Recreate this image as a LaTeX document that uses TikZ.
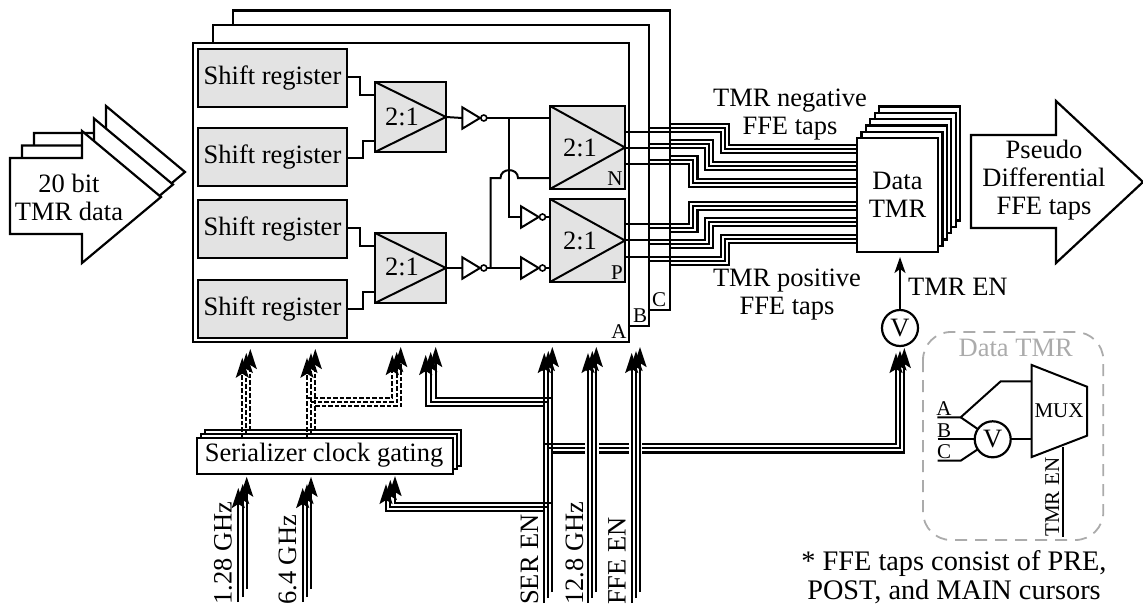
\documentclass[tikz,border=0pt]{standalone}
\usepackage{fontspec}
\setmainfont{Liberation Serif}
\usetikzlibrary{arrows.meta,shapes.geometric,calc}
\newcommand\bx[6][]{\pgfmathsetmacro\bcx{(#3+#5)/2}\pgfmathsetmacro\bcy{(#4+#6)/2}\pgfmathsetmacro\bw{abs(#5-#3)}\pgfmathsetmacro\bh{abs(#6-#4)}\node[boxn,#1,minimum width=\bw pt,minimum height=\bh pt] (#2) at (\bcx,\bcy) {};}
\newcommand\inverter[3]{\draw[ln,fill=white] (#2,#3-10.7) -- (#2+17.7,#3) -- (#2,#3+10.7) -- cycle;
  \coordinate (#1i) at (#2,#3);
  \node[bubble] (#1) at (#2+21.5,#3) {};}
\tikzset{
  ln/.style={line width=2pt,line join=miter},
  boxn/.style={draw,line width=2.2pt,fill=white,inner sep=0pt,outer sep=0pt},
  sreg/.style={fill=black!11},
  bubble/.style={circle,draw,line width=1.6pt,fill=white,minimum size=6pt,inner sep=0pt,outer sep=0pt},
  vote/.style={circle,draw,line width=2.2pt,fill=white,minimum size=36pt,inner sep=0pt,outer sep=0pt},
  bus/.style={line width=2.1pt,line join=miter},
  dbus/.style={line width=2pt,dash pattern=on 4.5pt off 2pt},
  arr/.style={-{Stealth[length=20pt,width=13pt,inset=4pt]}},
  big/.style={font=\fontsize{26.5}{28}\selectfont,align=center,inner sep=0pt},
  small/.style={font=\fontsize{21}{24}\selectfont,inner sep=0pt},
  gray label/.style={text=black!33},
}
\begin{document}
\begin{tikzpicture}[x=1pt,y=-1pt]
\useasboundingbox (0,0) rectangle (1143,608);

% input arrow stack
\foreach \ox/\oy in {24/-25,12/-12.5,0/0}{
  \draw[boxn,shift={(\ox,\oy)}] (10,158) -- (82,158) -- (82,131) -- (161,197) -- (82,263) -- (82,234) -- (10,234) -- cycle;
}
\node[big] (indata) at (69,197) {20 bit\\TMR data};

% slices
\bx{boxC}{233}{10.5}{670}{310}
\bx{boxB}{213}{25}{649}{326}
\bx{boxA}{193}{43}{629}{342}
\node[small] (lc) at (659,300) {C};
\node[small] (lb) at (640,316) {B};
\node[small] (la) at (619,332) {A};

% shift registers
\bx[sreg]{sra}{198}{49}{347}{107}
\bx[sreg]{srb}{198}{128}{347}{186}
\bx[sreg]{src}{198}{200}{347}{258}
\bx[sreg]{srd}{198}{280}{347}{338}
\foreach \n in {sra,srb,src,srd}{\node[big] (t\n) at (\n) {Shift register};}

% muxes
\bx[sreg]{ma}{375}{82}{446}{152}
\bx[sreg]{mb}{375}{233}{446}{303}
\bx[sreg]{mn}{550}{106}{625}{189}
\bx[sreg]{mp}{550}{199}{625}{282}
\foreach \n in {ma,mb,mn,mp}{\draw[ln] (\n.north west) -- (\n.east) -- (\n.south west);}
\node[big] (tma) at (402,117) {2:1};
\node[big] (tmb) at (402,267) {2:1};
\node[big] (tmn) at (580,148) {2:1};
\node[big] (tmp) at (580,241) {2:1};
\node[small] (ln) at (615,179) {N};
\node[small] (lp) at (617,273) {P};

\draw[ln] (sra.east |- 0,77) -- (360,77) -- (360,95) -- (ma.west |- 0,95);
\draw[ln] (srb.east |- 0,158) -- (363,158) -- (363,141) -- (ma.west |- 0,141);
\draw[ln] (src.east |- 0,228) -- (360,228) -- (360,246) -- (mb.west |- 0,246);
\draw[ln] (srd.east |- 0,309) -- (363,309) -- (363,292) -- (mb.west |- 0,292);

% inverters
\inverter{iva}{462.3}{118}
\inverter{ivb}{462.3}{268}
\inverter{ivc}{521}{217}
\inverter{ivd}{521}{268}
\draw[ln] (ma.east) -- (ivai);
\draw[ln] (mb.east) -- (ivbi);
\draw[ln] (iva.east) -- (mn.west |- iva.east);
\draw[ln] (ivb.east) -- (ivdi);
\draw[ln] (ivd.east) -- (mp.west |- ivd.east);
\draw[ln] (ivc.east) -- (mp.west |- ivc.east);
\coordinate (ja) at (509,118);
\draw[ln] (ja) -- (509,217) -- (ivci);
\coordinate (jb) at (490.5,268);
\draw[ln] (jb) -- (490.5,178) -- (500.5,178) .. controls (500.5,167.5) and (518,167.5) .. (518,178) -- (mn.west |- 0,178);

% Data TMR stack
\foreach \i in {5,4,3,2,1}{
  \pgfmathsetmacro\dx{4.4*\i}\pgfmathsetmacro\dy{6.3*\i}
  \draw[boxn] (857+\dx,138-\dy) rectangle (938+\dx,252-\dy);
}
\bx{dtmr}{857}{138}{938}{252}
\node[big] (tdt) at (dtmr) {Data\\TMR};

% taps: start of each slice, turn, end
\foreach \ya/\xv/\yv in {131.7/721/153.3,147.7/705/170,164.3/689/186.7,224.3/689/201.7,240/705/218.3,256.7/721/235}{
  \draw[bus] (mn.east |- 0,\ya) -- (\xv,\ya) -- (\xv,\yv) -- (dtmr.west |- 0,\yv);
}
\foreach \ya/\xv/\yv in {127.7/725/149.3,143.7/709/166,160.3/693/182.7,228.3/693/205.7,244/709/222.3,260.7/725/239}{
  \draw[bus] (boxB.east |- 0,\ya) -- (\xv,\ya) -- (\xv,\yv) -- (dtmr.west |- 0,\yv);
}
\foreach \ya/\xv/\yv in {123.7/729/145.3,139.7/713/162,156.3/697.5/178.7,232.3/697.5/209.7,248/713/226.3,264.7/729/243}{
  \draw[bus] (boxC.east |- 0,\ya) -- (\xv,\ya) -- (\xv,\yv) -- (dtmr.west |- 0,\yv);
}
\node[big] (tneg) at (790,114.5) {TMR negative\\FFE taps};
\node[big] (tpos) at (787,295) {TMR positive\\FFE taps};

% output arrow
\draw[boxn] (971,135) -- (1056,135) -- (1056,101) -- (1143,182) -- (1056,263) -- (1056,228) -- (971,228) -- cycle;
\node[big] (tout) at (1044,180) {Pseudo\\Differential\\FFE taps};

% voter for enable
\node[vote,font=\fontsize{26.5}{28}\selectfont] (vtop) at (900,328) {V};
\draw[ln,-{Stealth[length=16pt,width=11pt,inset=4pt]}] (vtop.north) -- (900,257);
\node[font=\fontsize{26.5}{28}\selectfont,inner sep=0pt,anchor=west] (ten) at (908,287) {TMR EN};

% gating
\bx{gc}{205}{430}{461}{465.7}
\bx{gb}{201}{434.3}{457}{469.3}
\bx{ga}{197}{438}{452.7}{473.7}
\node[big] (tga) at (324,455) {Serializer clock gating};

% input buses
\foreach \x/\yb/\yt in {238.3/602/488,242.7/597/484,246.7/589/476.7,302.7/602/488,307/597/484,311/589/476.7}{
  \draw[bus,arr] (\x,\yb) -- (\x,\yt);
}
% dashed clock buses
\foreach \x/\yt/\n in {242.3/357.7/ga,246.3/353/gb,250.3/349/gc,307/357.7/ga,311/353/gb,315.3/349/gc}{
  \draw[dbus,arr] (\n.north -| \x,0) -- (\x,\yt);
}
\draw[dbus,arr] (307,397.7) -- (392.3,397.7) -- (392.3,355);
\draw[dbus,arr] (311,402.3) -- (396.7,402.3) -- (396.7,352);
\draw[dbus,arr] (315.3,406.3) -- (400.7,406.3) -- (400.7,347);

% horizontal bus to V
\coordinate (sa) at (544.3,603);
\coordinate (sb) at (548.3,598);
\coordinate (sc) at (552.3,592);
\draw[bus,arr] (sa |- 0,444.3) -- (896,444.3) -- (896,353);
\draw[bus,arr] (sb |- 0,448.3) -- (900,448.3) -- (900,350.5);
\draw[bus,arr] (sc |- 0,452.5) -- (904.3,452.5) -- (904.3,348);
\fill[white] (585,441) rectangle (599,456);
\fill[white] (629.3,441) rectangle (642.3,456);

% enable branches
\draw[bus,arr] (sa |- 0,406.3) -- (425.7,406.3) -- (425.7,355);
\draw[bus,arr] (sb |- 0,402.3) -- (430.7,402.3) -- (430.7,352);
\draw[bus,arr] (sc |- 0,398.3) -- (435.7,398.3) -- (435.7,347);
\draw[bus,arr] (sa |- 0,511) -- (386,511) -- (386,484);
\draw[bus,arr] (sb |- 0,506.7) -- (390.3,506.7) -- (390.3,480);
\draw[bus,arr] (sc |- 0,502.7) -- (395,502.7) -- (395,476);

% vertical inputs
\draw[bus,arr] (sa) -- (544.3,353);
\draw[bus,arr] (sb) -- (548.3,351);
\draw[bus,arr] (sc) -- (552.3,347);
\foreach \x/\yb/\yt in {588/603/353,592.3/598/351,596.3/592/347,631.7/603/353,636/598/351,640/592/347}{
  \draw[bus,arr] (\x,\yb) -- (\x,\yt);
}

% rotated labels
\foreach \n/\x/\t in {l128/231.7/1.28 GHz,l64/296/6.4 GHz,lser/538/SER EN,l128b/583/12.8 GHz,lffe/625.7/FFE EN}{
  \node[font=\fontsize{26.5}{28}\selectfont,inner sep=0pt,rotate=90,anchor=base west] (\n) at (\x,605) {\t};
}

% inset
\draw[line width=1.8pt,black!33,dash pattern=on 12pt off 8pt,rounded corners=28pt] (923,332) rectangle (1103.3,540);
\node[big,gray label] (tins) at (1015.7,348) {Data TMR};
\draw[ln,fill=white] (1031.7,365) -- (1087,386.7) -- (1087,435.7) -- (1031.7,457) -- cycle;
\node[small] (tmux) at (1059,411) {MUX};
\node[vote,font=\fontsize{26.5}{28}\selectfont] (vin) at (992.7,439.3) {V};
\node[small] (ia) at (944,409) {A};
\node[small] (ib) at (944,431) {B};
\node[small] (ic) at (944,452) {C};
\coordinate (ka) at (960.7,417.3);
\coordinate (kc) at (960.7,460.7);
\draw[ln] (937.3,417.3) -- (ka) -- (1000.7,381.3) -- (1031.7,381.3);
\draw[ln] (ka) -- (vin);
\draw[ln] (937.7,439.3) -- (vin.west);
\draw[ln] (937.7,460.7) -- (kc) -- (vin);
\draw[ln] (vin.east) -- (1031.7,439.3);
\draw[ln] (1062.7,446.7) -- (1062.7,536.7);
\node[small,rotate=90,anchor=base west] (tmen) at (1059,536.7) {TMR EN};
\node[font=\fontsize{28.3}{29}\selectfont,align=center,inner sep=0pt] (note) at (954,577) {* FFE taps consist of PRE,\\POST, and MAIN cursors};
\end{tikzpicture}
\end{document}
